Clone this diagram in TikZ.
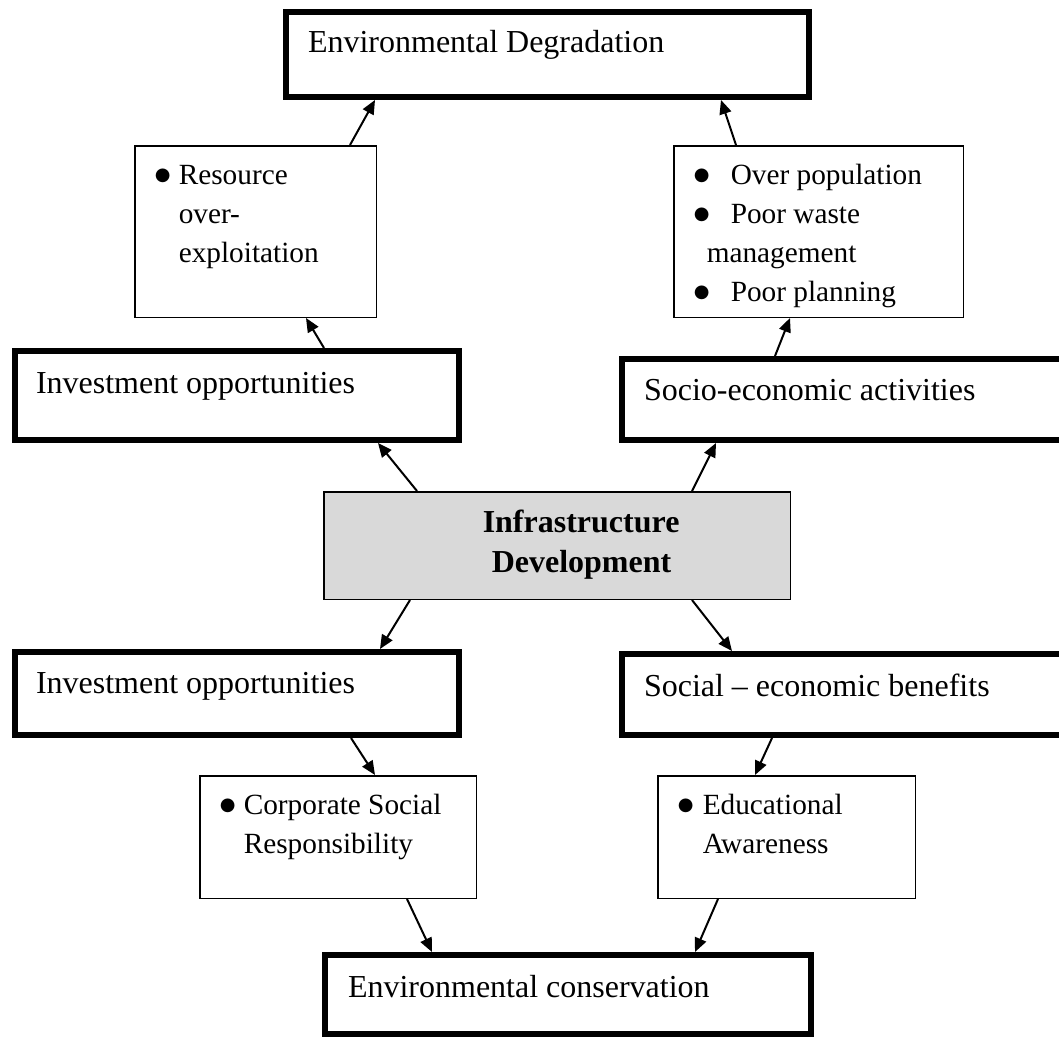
\documentclass[tikz,border=0pt]{standalone}
\usepackage{fontspec}
\setmainfont{Liberation Serif}
\newfontfamily\dotfont{DejaVu Sans}
\usetikzlibrary{arrows.meta}
\definecolor{infragray}{HTML}{D9D9D9}
\newcommand{\boxtext}[4]{\parbox[t][#2pt][t]{#1pt}{\rule{0pt}{#3pt}#4}}
\newcommand{\listfont}{\fontsize{29.3pt}{39pt}\selectfont}
\newcommand{\bul}[1]{\hspace*{20pt}\makebox[#1pt][l]{\raisebox{4pt}{\dotfont\fontsize{18pt}{18pt}\selectfont ●}}}

\begin{document}
\begin{tikzpicture}[x=1pt,y=-1pt]
\tikzstyle{every node}+=[inner sep=0pt,anchor=north west,font=\fontsize{32pt}{40pt}\selectfont]
\tikzstyle{heavybox}=[draw,line width=6pt]
\tikzstyle{lightbox}=[draw,line width=1.5pt]
\tikzstyle{link}=[line width=2pt,-{Triangle[length=14pt,width=12pt]}]
\useasboundingbox (0,0) rectangle (1059,1038);
\node[heavybox] (envdeg) at (283,9) {\boxtext{523}{85}{41}{\hspace*{22pt}Environmental Degradation}};
\node[lightbox] (resource) at (134,145) {\boxtext{241.5}{171.5}{39}{\listfont\bul{24}Resource\\\hspace*{44pt}over-\\\hspace*{44pt}exploitation}};
\node[lightbox] (overpop) at (673,145) {\boxtext{289.5}{171.5}{39}{\listfont\bul{37}Over population\\\bul{37}Poor waste\\\hspace*{33pt}management\\\bul{37}Poor planning}};
\node[heavybox] (invtop) at (12,348) {\boxtext{444}{89}{42}{\hspace*{21pt}Investment opportunities}};
\node[heavybox] (socact) at (619,356) {\boxtext{455}{81}{41}{\hspace*{22pt}Socio-economic activities}};
\node[lightbox,fill=infragray] (infra) at (323,491) {\boxtext{466.5}{107.5}{41}{\bfseries\hspace*{159pt}Infrastructure\\\hspace*{168pt}Development}};
\node[heavybox] (invbot) at (12,649) {\boxtext{444}{83}{41}{\hspace*{21pt}Investment opportunities}};
\node[heavybox] (socben) at (619,651) {\boxtext{455}{81}{42}{\hspace*{22pt}Social \textendash{} economic benefits}};
\node[lightbox] (csr) at (199,775) {\boxtext{276.5}{122.5}{39}{\listfont\bul{24}Corporate Social\\\hspace*{44pt}Responsibility}};
\node[lightbox] (edu) at (657,775) {\boxtext{257.5}{122.5}{39}{\listfont\bul{25}Educational\\\hspace*{45pt}Awareness}};
\node[heavybox] (envcons) at (322,952) {\boxtext{486}{79}{42}{\hspace*{23pt}Environmental conservation}};
% arrows up to degradation
\draw[link] ([xshift=216pt]resource.north west) -- ([xshift=92pt]envdeg.south west);
\draw[link] ([xshift=63pt]overpop.north west) -- ([xshift=438pt]envdeg.south west);
\draw[link] ([xshift=312pt]invtop.north west) -- ([xshift=172pt]resource.south west);
\draw[link] ([xshift=156pt]socact.north west) -- ([xshift=117pt]overpop.south west);
\draw[link] ([xshift=94pt]infra.north west) -- ([xshift=366pt]invtop.south west);
\draw[link] ([xshift=369pt]infra.north west) -- ([xshift=97pt]socact.south west);
% arrows down to conservation
\draw[link] ([xshift=87pt]infra.south west) -- ([xshift=368pt]invbot.north west);
\draw[link] ([xshift=369pt]infra.south west) -- ([xshift=113pt]socben.north west);
\draw[link] ([xshift=339pt]invbot.south west) -- ([xshift=176pt]csr.north west);
\draw[link] ([xshift=153pt]socben.south west) -- ([xshift=98pt]edu.north west);
\draw[link] ([xshift=208pt]csr.south west) -- ([xshift=110pt]envcons.north west);
\draw[link] ([xshift=61pt]edu.south west) -- ([xshift=373pt]envcons.north west);
\end{tikzpicture}
\end{document}
